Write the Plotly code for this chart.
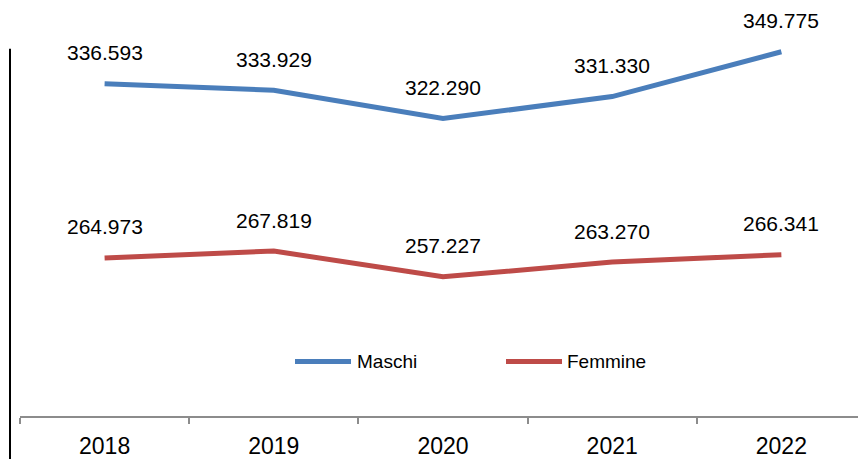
import plotly.graph_objects as go

years = ["2018", "2019", "2020", "2021", "2022"]
maschi = [336593, 333929, 322290, 331330, 349775]
femmine = [264973, 267819, 257227, 263270, 266341]
series_names = ["Maschi", "Femmine"]
colors = ["#4A7EBB", "#BE4B48"]

def fmt(v):
    return f"{v:,}".replace(",", ".")

FONT = "Arial, Liberation Sans, sans-serif"
W, H = 858, 459
ML, MR, MT, MB = 20, 0, 30, 38
PW = W - ML - MR
PH = H - MT - MB

fig = go.Figure()
annotations = []
for name, vals, col in zip(series_names, [maschi, femmine], colors):
    fig.add_trace(go.Scatter(x=years, y=vals, mode="lines", name=name,
                             line=dict(color=col, width=5), showlegend=False,
                             hoverinfo="skip"))
    for i, v in enumerate(vals):
        annotations.append(dict(x=i, y=v, xref="x", yref="y", text=fmt(v),
                                showarrow=False, yshift=31, yanchor="middle",
                                font=dict(family=FONT, size=21, color="#000000")))

def px_x(p):
    return (p - ML) / PW

def px_y(p):
    return (H - MB - p) / PH

shapes = []
# vertical axis line on left
shapes.append(dict(type="line", xref="paper", yref="paper",
                   x0=px_x(10), x1=px_x(10), y0=px_y(49), y1=px_y(470),
                   line=dict(color="#000000", width=2)))
# manual legend
leg_y = px_y(365.7)
leg_items = [(295, 351, 355), (506, 562, 565)]
for (x0, x1, xt), name, col in zip(leg_items, series_names, colors):
    shapes.append(dict(type="line", xref="paper", yref="paper",
                       x0=px_x(x0), x1=px_x(x1), y0=leg_y, y1=leg_y,
                       line=dict(color=col, width=5)))
    annotations.append(dict(x=px_x(xt), y=leg_y, xref="paper", yref="paper",
                            text=name, showarrow=False, xanchor="left", yanchor="middle",
                            font=dict(family=FONT, size=19, color="#000000")))

fig.update_layout(
    width=W, height=H,
    margin=dict(l=ML, r=MR, t=MT, b=MB),
    plot_bgcolor="white", paper_bgcolor="white",
    annotations=annotations, shapes=shapes,
    showlegend=False,
    xaxis=dict(type="category", range=[-0.5, 4.453], showgrid=False, zeroline=False,
               showline=True, linecolor="#8C8C8C", linewidth=1.5,
               ticks="outside", tickson="boundaries", ticklen=6, tickcolor="#8C8C8C",
               tickwidth=1.5, ticklabelstandoff=9,
               tickfont=dict(family=FONT, size=23, color="#000000")),
    yaxis=dict(range=[200000, 358700], showgrid=False, zeroline=False,
               showline=False, showticklabels=False, ticks=""),
)

fig.write_html("out.html", config={"displayModeBar": False},
               post_script="document.body.style.margin='0px';document.body.style.overflow='hidden';")
